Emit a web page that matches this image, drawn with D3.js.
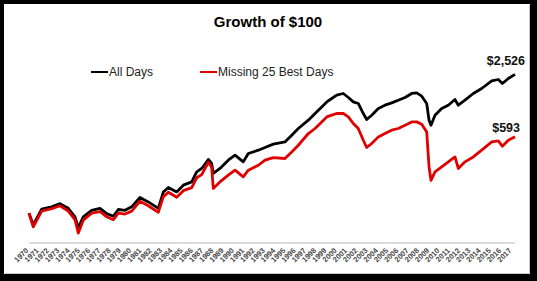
<!DOCTYPE html>
<html>
<head>
<meta charset="utf-8">
<script src="https://cdn.jsdelivr.net/npm/d3@7"></script>
<style>
  html, body { margin: 0; padding: 0; background: #000; }
  svg { display: block; }
</style>
</head>
<body>
<svg id="chart" width="537" height="281"></svg>
<script>
// time (decimal year) and value in $ (log scale)
const years = [1970.0, 1970.42, 1971.25, 1972.24, 1973.06, 1973.88, 1974.54, 1974.87, 1975.36, 1976.19,
  1977.01, 1977.67, 1978.33, 1978.82, 1979.48, 1980.14, 1980.96, 1981.78, 1982.77, 1983.27,
  1983.76, 1984.59, 1985.24, 1986.07, 1986.56, 1987.06, 1987.71, 1988.04, 1988.2, 1988.86,
  1989.68, 1990.35, 1991.16, 1991.66, 1992.65, 1993.31, 1994.13, 1995.28, 1995.95, 1996.6,
  1997.59, 1998.25, 1998.91, 1999.41, 1999.9, 2000.39, 2001.04, 2001.54, 2002.03, 2002.52,
  2003.02, 2003.35, 2003.85, 2004.5, 2005.16, 2005.82, 2006.47, 2007.14, 2007.8, 2008.29,
  2008.79, 2009.28, 2009.51, 2009.7, 2010.1, 2010.76, 2011.41, 2012.07, 2012.4, 2013.06,
  2013.88, 2014.71, 2015.7, 2016.35, 2016.75, 2017.34, 2018.0]

const all_days = [100, 76, 110, 116, 125, 112, 92, 71, 92, 107,
  112, 99, 93, 109, 107, 116, 144, 130, 112, 164,
  182, 164, 192, 207, 261, 283, 349, 318, 252, 283,
  343, 386, 330, 401, 433, 461, 498, 525, 614, 717,
  870, 1016, 1185, 1331, 1441, 1556, 1619, 1475, 1331, 1283,
  1016, 884, 977, 1142, 1233, 1301, 1385, 1475, 1619, 1641,
  1520, 1283, 870, 774, 977, 1142, 1233, 1408, 1233, 1385,
  1619, 1818, 2170, 2241, 2042, 2294, 2526]

const missing_25 = [100, 73, 105, 111, 119, 105, 86, 63, 85, 100,
  104, 92, 86, 100, 98, 105, 132, 119, 102, 147,
  163, 145, 169, 181, 228, 245, 327, 291, 178, 207,
  242, 272, 233, 272, 305, 343, 364, 357, 416, 486,
  638, 717, 836, 939, 977, 1016, 1016, 939, 806, 717,
  546, 461, 506, 590, 638, 689, 717, 774, 836, 836,
  793, 662, 294, 215, 261, 294, 330, 370, 283, 330,
  370, 433, 525, 537, 475, 546, 593]

const tick_years = d3.range(1970, 2018)

const series_names = ['All Days', 'Missing 25 Best Days']
const end_labels = ['$2,526', '$593']


const svg = d3.select('#chart')
const width = 537, height = 281

/* 外框：黑边 + 白底 */
svg.append('rect').attr('width', width).attr('height', height).attr('fill', '#000')
svg.append('rect').attr('x', 4).attr('y', 4).attr('width', 526).attr('height', 270).attr('fill', '#fff')
svg.append('path')
    .attr('d', 'M529.5,5 V273.5 H5')
    .attr('fill', 'none').attr('stroke', '#c8c8c8').attr('stroke-width', 1)

const font = 'Arial, "Liberation Sans", sans-serif'

/* params */
const x = d3.scaleLinear().domain([1970, 2018]).range([29, 515])
const y = d3.scaleLog().domain([50, 5000]).range([243, 45])
const colors = ['#000000', '#e00000']

/* title */
svg.append('text')
    .attr('x', 268).attr('y', 27)
    .attr('text-anchor', 'middle')
    .style('font-family', font).style('font-weight', 'bold').style('font-size', '15px')
    .text('Growth of $100')

/* x axis line */
svg.append('line')
    .attr('x1', x(1970)).attr('x2', x(2018))
    .attr('y1', y(50)).attr('y2', y(50))
    .attr('stroke', '#cfcfcf').attr('stroke-width', 1.5)

/* year labels */
const xl = d3.scalePoint().domain(tick_years).range([29, 512])
svg.append('g')
    .selectAll('text')
    .data(tick_years)
    .join('text')
    .attr('transform', d => `translate(${xl(d)},251) rotate(-45)`)
    .attr('text-anchor', 'end')
    .style('font-family', font).style('font-size', '7.5px').style('font-weight', 'bold')
    .attr('fill', '#4a4a4a')
    .text(d => d)

/* lines */
const line = d3.line()
    .x((d, i) => x(years[i]))
    .y(d => y(d))

svg.selectAll('.series')
    .data([all_days, missing_25])
    .join('path')
    .classed('series', true)
    .attr('d', d => line(d))
    .attr('fill', 'none')
    .attr('stroke', (d, i) => colors[i])
    .attr('stroke-width', 2.8)
    .attr('stroke-linejoin', 'round')

/* legend */
const legend_x = [91, 200]
const lg = svg.append('g')
lg.selectAll('line')
    .data(series_names)
    .join('line')
    .attr('x1', (d, i) => legend_x[i]).attr('x2', (d, i) => legend_x[i] + 17)
    .attr('y1', 72).attr('y2', 72)
    .attr('stroke', (d, i) => colors[i]).attr('stroke-width', 2)
lg.selectAll('text')
    .data(series_names)
    .join('text')
    .attr('x', (d, i) => legend_x[i] + 18).attr('y', 76)
    .style('font-family', font).style('font-size', '12px')
    .attr('fill', '#222')
    .text(d => d)

/* end labels */
svg.selectAll('.end_label')
    .data([all_days, missing_25])
    .join('text')
    .classed('end_label', true)
    .attr('x', (d, i) => i == 0 ? 525 : 520)
    .attr('y', (d, i) => y(d[d.length - 1]) - (i == 0 ? 9 : 5))
    .attr('text-anchor', 'end')
    .style('font-family', font).style('font-weight', 'bold').style('font-size', '12.5px')
    .attr('fill', '#111')
    .text((d, i) => end_labels[i])
</script>
</body>
</html>
